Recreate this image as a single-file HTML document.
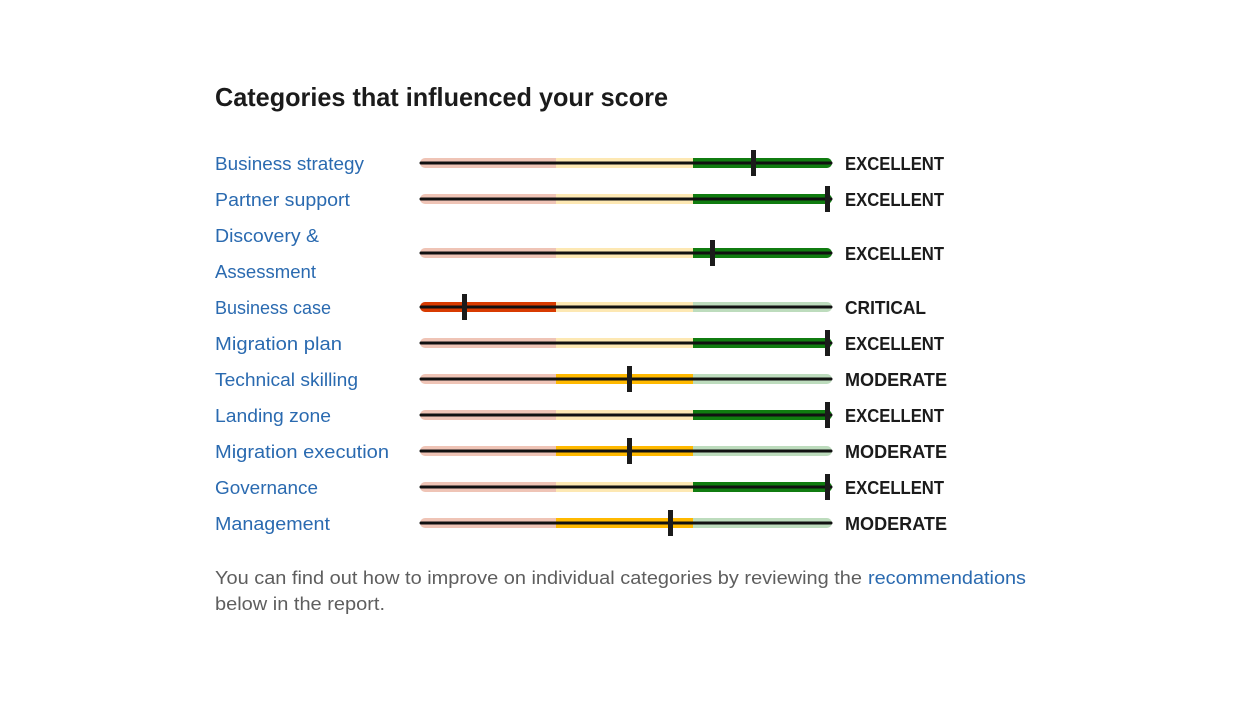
<!DOCTYPE html>
<html>
<head>
<meta charset="utf-8">
<style>
  html, body { margin: 0; padding: 0; background: #ffffff; }
  body { width: 1248px; height: 704px; overflow: hidden; }
  svg { display: block; }
  .t { font-family: "Liberation Sans", "DejaVu Sans", sans-serif; }
</style>
</head>
<body>
<svg width="1248" height="704" viewBox="0 0 1248 704" xmlns="http://www.w3.org/2000/svg">
  <rect width="1248" height="704" fill="#ffffff"/>
  <text class="t" x="215" y="106" font-size="26" font-weight="bold" fill="#1b1b1b" textLength="453" lengthAdjust="spacingAndGlyphs">Categories that influenced your score</text>

  <defs>
    <path id="segL" d="M556,-5 H425 A5,5 0 0 0 425,5 H556 Z"/>
    <path id="segR" d="M693,-5 H827 A5,5 0 0 1 827,5 H693 Z"/>
    <g id="lowbar">
      <use href="#segL" fill="#efc4b6"/>
      <rect x="556" y="-5" width="137" height="10" fill="#fde8b3"/>
      <use href="#segR" fill="#bddcbd"/>
    </g>
    <line id="blk" x1="421" y1="0" x2="831" y2="0" stroke="#111" stroke-width="3" stroke-linecap="round"/>
  </defs>

  <!-- Row 1 -->
  <g transform="translate(0,163)">
    <use href="#lowbar"/>
    <use href="#segR" fill="#107c10"/>
    <use href="#blk"/>
    <rect x="751" y="-13" width="5" height="26" fill="#1b1b1b"/>
  </g>
  <!-- Row 2 -->
  <g transform="translate(0,199)">
    <use href="#lowbar"/>
    <use href="#segR" fill="#107c10"/>
    <use href="#blk"/>
    <rect x="825" y="-13" width="5" height="26" fill="#1b1b1b"/>
  </g>
  <!-- Row 3 -->
  <g transform="translate(0,253)">
    <use href="#lowbar"/>
    <use href="#segR" fill="#107c10"/>
    <use href="#blk"/>
    <rect x="710" y="-13" width="5" height="26" fill="#1b1b1b"/>
  </g>
  <!-- Row 4 critical -->
  <g transform="translate(0,307)">
    <use href="#lowbar"/>
    <use href="#segL" fill="#d83b01"/>
    <use href="#blk"/>
    <rect x="462" y="-13" width="5" height="26" fill="#1b1b1b"/>
  </g>
  <!-- Row 5 -->
  <g transform="translate(0,343)">
    <use href="#lowbar"/>
    <use href="#segR" fill="#107c10"/>
    <use href="#blk"/>
    <rect x="825" y="-13" width="5" height="26" fill="#1b1b1b"/>
  </g>
  <!-- Row 6 moderate -->
  <g transform="translate(0,379)">
    <use href="#lowbar"/>
    <rect x="556" y="-5" width="137" height="10" fill="#ffb900"/>
    <use href="#blk"/>
    <rect x="627" y="-13" width="5" height="26" fill="#1b1b1b"/>
  </g>
  <!-- Row 7 -->
  <g transform="translate(0,415)">
    <use href="#lowbar"/>
    <use href="#segR" fill="#107c10"/>
    <use href="#blk"/>
    <rect x="825" y="-13" width="5" height="26" fill="#1b1b1b"/>
  </g>
  <!-- Row 8 moderate -->
  <g transform="translate(0,451)">
    <use href="#lowbar"/>
    <rect x="556" y="-5" width="137" height="10" fill="#ffb900"/>
    <use href="#blk"/>
    <rect x="627" y="-13" width="5" height="26" fill="#1b1b1b"/>
  </g>
  <!-- Row 9 -->
  <g transform="translate(0,487)">
    <use href="#lowbar"/>
    <use href="#segR" fill="#107c10"/>
    <use href="#blk"/>
    <rect x="825" y="-13" width="5" height="26" fill="#1b1b1b"/>
  </g>
  <!-- Row 10 moderate -->
  <g transform="translate(0,523)">
    <use href="#lowbar"/>
    <rect x="556" y="-5" width="137" height="10" fill="#ffb900"/>
    <use href="#blk"/>
    <rect x="668" y="-13" width="5" height="26" fill="#1b1b1b"/>
  </g>

  <!-- Labels -->
  <g class="t" font-size="18" fill="#2a6ab0">
    <text x="215" y="170" textLength="149" lengthAdjust="spacingAndGlyphs">Business strategy</text>
    <text x="215" y="206" textLength="135" lengthAdjust="spacingAndGlyphs">Partner support</text>
    <text x="215" y="242" textLength="104" lengthAdjust="spacingAndGlyphs">Discovery &amp;</text>
    <text x="215" y="278" textLength="101" lengthAdjust="spacingAndGlyphs">Assessment</text>
    <text x="215" y="314">Business case</text>
    <text x="215" y="350" textLength="127" lengthAdjust="spacingAndGlyphs">Migration plan</text>
    <text x="215" y="386" textLength="143" lengthAdjust="spacingAndGlyphs">Technical skilling</text>
    <text x="215" y="422" textLength="116" lengthAdjust="spacingAndGlyphs">Landing zone</text>
    <text x="215" y="458" textLength="174" lengthAdjust="spacingAndGlyphs">Migration execution</text>
    <text x="215" y="494" textLength="103" lengthAdjust="spacingAndGlyphs">Governance</text>
    <text x="215" y="530" textLength="115" lengthAdjust="spacingAndGlyphs">Management</text>
  </g>

  <!-- Status -->
  <g class="t" font-size="18" font-weight="bold" fill="#1b1b1b">
    <text x="845" y="170" textLength="99" lengthAdjust="spacingAndGlyphs">EXCELLENT</text>
    <text x="845" y="206" textLength="99" lengthAdjust="spacingAndGlyphs">EXCELLENT</text>
    <text x="845" y="260" textLength="99" lengthAdjust="spacingAndGlyphs">EXCELLENT</text>
    <text x="845" y="314" textLength="81" lengthAdjust="spacingAndGlyphs">CRITICAL</text>
    <text x="845" y="350" textLength="99" lengthAdjust="spacingAndGlyphs">EXCELLENT</text>
    <text x="845" y="386" textLength="102" lengthAdjust="spacingAndGlyphs">MODERATE</text>
    <text x="845" y="422" textLength="99" lengthAdjust="spacingAndGlyphs">EXCELLENT</text>
    <text x="845" y="458" textLength="102" lengthAdjust="spacingAndGlyphs">MODERATE</text>
    <text x="845" y="494" textLength="99" lengthAdjust="spacingAndGlyphs">EXCELLENT</text>
    <text x="845" y="530" textLength="102" lengthAdjust="spacingAndGlyphs">MODERATE</text>
  </g>

  <!-- Footnote -->
  <g class="t" font-size="18" fill="#5e5e5e">
    <text x="215" y="584" textLength="647" lengthAdjust="spacingAndGlyphs">You can find out how to improve on individual categories by reviewing the</text>
    <text x="868" y="584" fill="#2a6ab0" textLength="158" lengthAdjust="spacingAndGlyphs">recommendations</text>
    <text x="215" y="610" textLength="170" lengthAdjust="spacingAndGlyphs">below in the report.</text>
  </g>
</svg>
</body>
</html>
